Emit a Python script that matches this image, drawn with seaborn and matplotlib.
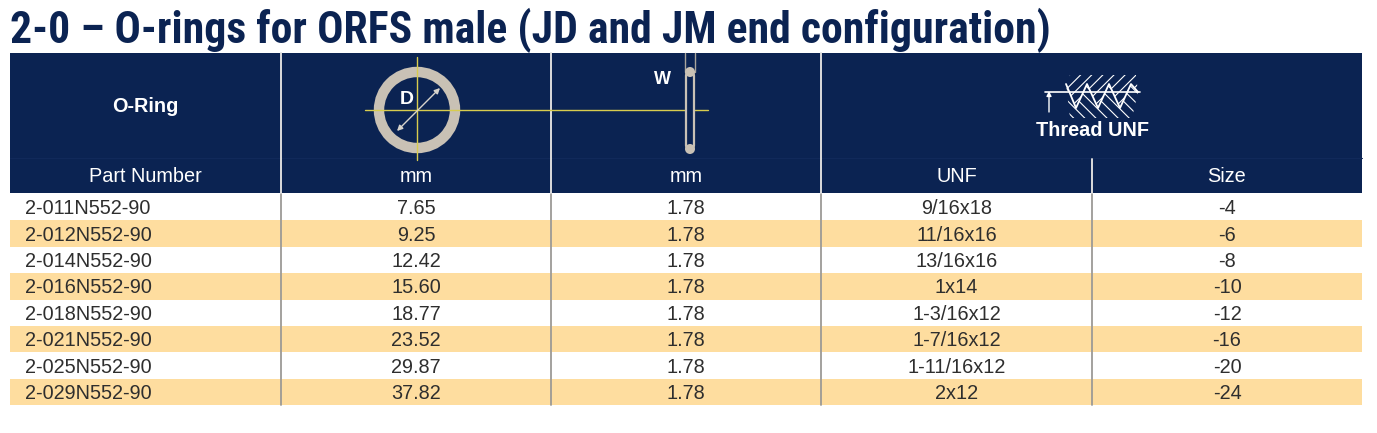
import numpy as np
import matplotlib
matplotlib.use("Agg")
import matplotlib.pyplot as plt
import matplotlib.patches as mpatches
import seaborn as sns

# table content
part_numbers = ["2-011N552-90", "2-012N552-90", "2-014N552-90", "2-016N552-90",
                "2-018N552-90", "2-021N552-90", "2-025N552-90", "2-029N552-90"]
inner_diam = [7.65, 9.25, 12.42, 15.60, 18.77, 23.52, 29.87, 37.82]
cross_width = [1.78, 1.78, 1.78, 1.78, 1.78, 1.78, 1.78, 1.78]
thread_unf = ["9/16x18", "11/16x16", "13/16x16", "1x14",
              "1-3/16x12", "1-7/16x12", "1-11/16x12", "2x12"]
thread_size = [-4, -6, -8, -10, -12, -16, -20, -24]
sub_headers = ["Part Number", "mm", "mm", "UNF", "Size"]
title = "2-0 \u2013 O-rings for ORFS male (JD and JM end configuration)"

NAVY = "#0b2352"
STRIPE = "#fedd9f"
RING = "#c9c1b5"
YELLOW = "#d8cc4e"
TXT = "#2e2e2e"

sns.set_style("white")
plt.rcParams["font.family"] = ["Liberation Sans", "DejaVu Sans"]
plt.rcParams["hatch.color"] = "white"
plt.rcParams["hatch.linewidth"] = 0.8

W, H = 1377, 433
fig = plt.figure(figsize=(W / 100, H / 100), dpi=100)
ax = fig.add_axes([0, 0, 1, 1])
ax.set_xlim(0, W)
ax.set_ylim(H, 0)
ax.axis("off")

left, right = 10, 1362
col_edges = [10, 281, 551, 821, 1092, 1362]
head_top, head_bot = 53, 193
row_h = 26.4

# title, fitted to the reference width
t = ax.text(left, 43, title, fontsize=30, fontweight="bold", color=NAVY,
            family=["Liberation Sans Narrow", "Roboto Condensed", "Roboto", "DejaVu Sans"],
            ha="left", va="baseline")
fig.canvas.draw()
bb = t.get_window_extent()
t.set_fontsize(30 * (1050 - left) / bb.width)

# header block
ax.add_patch(mpatches.Rectangle((left, head_top), right - left, head_bot - head_top,
                                facecolor=NAVY, edgecolor="none", zorder=1))
ax.plot([left, right], [158, 158], color="#11295a", lw=0.8, zorder=2)
for x in col_edges[1:4]:
    ax.plot([x, x], [head_top, head_bot], color="#dcdcdc", lw=1.4, zorder=3)
ax.plot([1092, 1092], [159, head_bot], color="#dcdcdc", lw=1.4, zorder=3)

# data rows
n = len(part_numbers)
row_tops = head_bot + 1 + np.arange(n) * row_h
for i, top in enumerate(row_tops):
    if i % 2 == 1:
        ax.add_patch(mpatches.Rectangle((left, top), right - left, row_h,
                                        facecolor=STRIPE, edgecolor="none", zorder=1))
for x in col_edges[1:5]:
    ax.plot([x, x], [head_bot, row_tops[-1] + row_h], color="#9c9a96", lw=1.3, zorder=2)

centers = [(a + b) / 2 for a, b in zip(col_edges[:-1], col_edges[1:])]
fs = 14.3
for i, top in enumerate(row_tops):
    yc = top + row_h / 2 + 1.5
    ax.text(25, yc, part_numbers[i], fontsize=fs, color=TXT, ha="left", va="center", zorder=4)
    ax.text(centers[1], yc, f"{inner_diam[i]:.2f}", fontsize=fs, color=TXT, ha="center", va="center", zorder=4)
    ax.text(centers[2], yc, f"{cross_width[i]:.2f}", fontsize=fs, color=TXT, ha="center", va="center", zorder=4)
    ax.text(centers[3], yc, thread_unf[i], fontsize=fs, color=TXT, ha="center", va="center", zorder=4)
    ax.text(centers[4], yc, str(thread_size[i]), fontsize=fs, color=TXT, ha="center", va="center", zorder=4)

# header labels
for c, lab in zip(centers, sub_headers):
    ax.text(c, 177, lab, fontsize=fs, color="white", ha="center", va="center", zorder=4)
ax.text(centers[0], 106, "O-Ring", fontsize=fs, fontweight="bold", color="white",
        ha="center", va="center", zorder=4)
ax.text(1092, 131, "Thread UNF", fontsize=fs, fontweight="bold", color="white",
        ha="center", va="center", zorder=4)

# O-ring diameter icon
cx, cy = 417, 110
ax.plot([365, 708], [cy, cy], color=YELLOW, lw=1.0, zorder=5)
ax.plot([cx, cx], [57, 160], color=YELLOW, lw=1.0, zorder=5)
ax.add_patch(mpatches.Circle((cx, cy), 38, facecolor="none", edgecolor=RING, lw=7.5, zorder=4))
ax.annotate("", xy=(440, 88), xytext=(397, 131),
            arrowprops=dict(arrowstyle="<|-|>", color="#d8d4cc", lw=1.0,
                            mutation_scale=8, shrinkA=0, shrinkB=0), zorder=6)
ax.text(407, 99, "D", fontsize=14, fontweight="bold", color="white", ha="center", va="center", zorder=6)

# cross-section (W) icon
wx = 690
ax.plot([wx - 5, wx - 5], [head_top, 72], color="#a9a49c", lw=1.0, zorder=4)
ax.plot([wx + 5, wx + 5], [head_top, 72], color="#a9a49c", lw=1.0, zorder=4)
ax.add_patch(mpatches.FancyBboxPatch((wx - 4, 72), 8, 77, boxstyle="round,pad=0,rounding_size=4",
                                     facecolor=NAVY, edgecolor=RING, lw=1.6, zorder=6))
ax.add_patch(mpatches.Circle((wx, 72), 5, facecolor=RING, edgecolor="none", zorder=7))
ax.add_patch(mpatches.Circle((wx, 149), 5, facecolor=RING, edgecolor="none", zorder=7))
ax.text(662, 79, "W", fontsize=13, fontweight="bold", color="white", ha="center", va="center", zorder=6)

# thread icon
prof_x = [1066, 1076, 1087, 1098, 1109, 1120, 1131, 1138]
prof_y = [84, 108, 84, 108, 84, 108, 84, 92]
upper = list(zip(prof_x, prof_y)) + [(1136, 75), (1070, 75)]
lower = list(zip(prof_x, prof_y)) + [(1132, 118), (1070, 118)]
ax.add_patch(mpatches.Polygon(upper, closed=True, facecolor="none", edgecolor="white",
                              lw=0, hatch="///", zorder=4))
ax.add_patch(mpatches.Polygon(lower, closed=True, facecolor="none", edgecolor="white",
                              lw=0, hatch="\\\\\\", zorder=4))
ax.plot(prof_x, prof_y, color="white", lw=1.3, zorder=5)
ax.plot([1045, 1140], [92, 92], color="white", lw=1.2, zorder=5)
ax.annotate("", xy=(1049, 91), xytext=(1049, 112),
            arrowprops=dict(arrowstyle="-|>", color="white", lw=1.0, mutation_scale=7,
                            shrinkA=0, shrinkB=0), zorder=5)

fig.savefig("out.png", dpi=100, facecolor="white")
